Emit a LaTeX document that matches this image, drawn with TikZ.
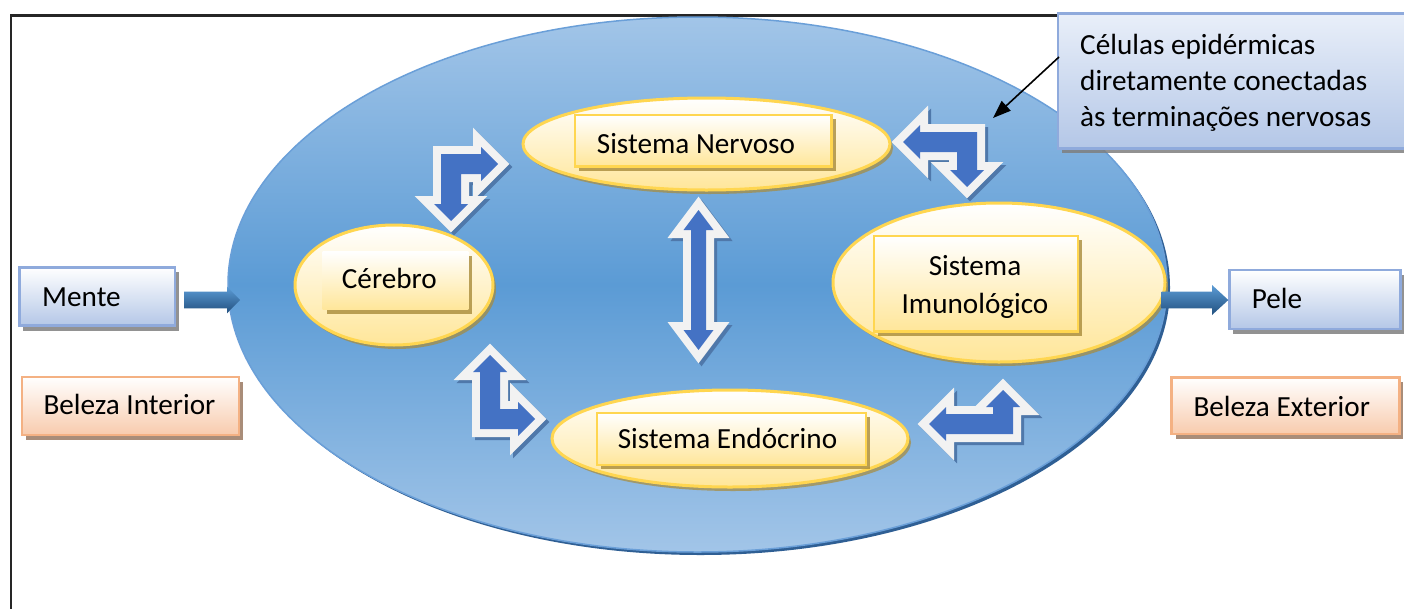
\documentclass[tikz,border=0pt]{standalone}
\usepackage{fontspec}
\setmainfont{Carlito}
\usetikzlibrary{shapes.geometric,shadows,arrows.meta}
\definecolor{ellTop}{HTML}{A2C5E8}
\definecolor{ellMid}{HTML}{5B9BD5}
\definecolor{ellLine}{HTML}{6A9FD8}
\definecolor{ellShadow}{HTML}{2F5F94}
\definecolor{yelLine}{HTML}{FFD650}
\definecolor{yelBot}{HTML}{FFE699}
\definecolor{yelShadow}{HTML}{A88B3A}
\definecolor{boxBlueLine}{HTML}{8FAADC}
\definecolor{boxBlueBot}{HTML}{B4C7E7}
\definecolor{boxOrLine}{HTML}{F4B183}
\definecolor{boxOrBot}{HTML}{F8CBAD}
\definecolor{shGray}{HTML}{7F7F7F}
\definecolor{shBrown}{HTML}{9A7A62}
\definecolor{arrBlue}{HTML}{4472C4}
\definecolor{arrWhite}{HTML}{F2F2F2}
\definecolor{arrShd}{HTML}{4F78AA}
\definecolor{blkTop}{HTML}{5B9BD5}
\definecolor{blkBot}{HTML}{22507F}
\definecolor{calTop}{HTML}{E9EFF9}
\definecolor{frameC}{HTML}{262626}

\newcommand{\bentpath}[2]{(0,0) -- ({#1-17},0) -- ({#1-17},-7) -- (#1,10) -- ({#1-17},27) -- ({#1-17},20) -- (20,20) -- (20,{#2-17}) -- (27,{#2-17}) -- (10,#2) -- (-7,{#2-17}) -- (0,{#2-17}) -- cycle}
\newcommand{\bentarrow}[6]{%
  \begin{scope}[shift={({#1+3},{#2+3})},xscale=#3,yscale=#4]
    \filldraw[bentshadow] \bentpath{#5}{#6};
  \end{scope}
  \begin{scope}[shift={(#1,#2)},xscale=#3,yscale=#4]
    \filldraw[bentwhite] \bentpath{#5}{#6};
    \fill[bentblue] \bentpath{#5}{#6};
  \end{scope}}
\newcommand{\dblpath}{(698.5,210) -- (713.5,230) -- (706,230) -- (706,330) -- (713.5,330) -- (698.5,350) -- (683.5,330) -- (691,330) -- (691,230) -- (683.5,230) -- cycle}

\begin{document}
\begin{tikzpicture}[x=1pt,y=-1pt,
  txt/.style={inner sep=0pt, font=\fontsize{29.2pt}{36pt}\selectfont},
  frame/.style={draw=frameC, line width=2.4pt},
  bigell/.style={ellipse, inner sep=0pt, minimum width=939pt, minimum height=535pt,
    draw=ellLine, line width=1.5pt, top color=ellTop, bottom color=ellTop, middle color=ellMid,
    drop shadow={shadow xshift=3pt, shadow yshift=-3pt, fill=ellShadow, opacity=1}},
  yell/.style={ellipse, inner sep=0pt, draw=yelLine, line width=3pt, top color=white, bottom color=yelBot,
    drop shadow={shadow xshift=3pt, shadow yshift=-4pt, fill=yelShadow, opacity=.7}},
  inrect/.style={rectangle, inner sep=0pt, draw=yelLine, line width=2.5pt, top color=white, bottom color=yelBot,
    drop shadow={shadow xshift=4pt, shadow yshift=-4pt, fill=yelShadow, opacity=.8}},
  bluebox/.style={rectangle, inner sep=0pt, draw=boxBlueLine, line width=2.5pt, top color=white, bottom color=boxBlueBot,
    drop shadow={shadow xshift=4pt, shadow yshift=-5pt, fill=shGray, opacity=.85}},
  orbox/.style={rectangle, inner sep=0pt, draw=boxOrLine, line width=2.5pt, top color=white, bottom color=boxOrBot,
    drop shadow={shadow xshift=4pt, shadow yshift=-5pt, fill=shBrown, opacity=.85}},
  calbox/.style={rectangle, inner sep=0pt, draw=boxBlueLine, line width=2.5pt, top color=calTop, bottom color=boxBlueBot,
    drop shadow={shadow xshift=4pt, shadow yshift=-5pt, fill=shGray, opacity=.85}},
  bentwhite/.style={fill=arrWhite, draw=arrWhite, line width=16pt, line join=miter},
  bentshadow/.style={fill=arrShd, draw=arrShd, line width=16pt, line join=miter},
  bentblue/.style={fill=arrBlue},
  blockarr/.style={top color=blkTop, bottom color=blkBot},
  calarrow/.style={draw=black, line width=1.6pt, -{Triangle[length=18pt,width=13pt]}}
]
\useasboundingbox (0,0) rectangle (1404,608);
\fill[white] (0,0) rectangle (1404,608);

% frame
\draw[frame] (11,610) -- (11,15.5) -- (1080,15.5);

% big body ellipse
\node[bigell] (body) at (697.5,284.5) {};

% yellow ellipses
\node[yell, minimum width=367pt, minimum height=92pt] (nerv) at (706.5,144) {};
\node[yell, minimum width=198pt, minimum height=120pt] (cer) at (394,285) {};
\node[yell, minimum width=332pt, minimum height=159pt] (imun) at (999,282.5) {};
\node[yell, minimum width=356pt, minimum height=97pt] (endo) at (730,438.5) {};

% inner text boxes
\node[inrect, minimum width=256.7pt, minimum height=51.7pt] (nervR) at (703.3,140.8) {};
\node[inrect, draw=none, minimum width=145.6pt, minimum height=58.3pt] (cerR) at (395.5,280.8) {};
\node[inrect, minimum width=204pt, minimum height=95.7pt] (imunR) at (976,283.8) {};
\node[inrect, minimum width=269pt, minimum height=52pt] (endoR) at (731.5,439) {};

\node[txt, anchor=base west] (tNerv) at (596.7,153.3) {Sistema Nervoso};
\node[txt, anchor=base west] (tCer) at (341.7,288.3) {Cérebro};
\node[txt, anchor=base] (tSisA) at (975,275) {Sistema};
\node[txt, anchor=base] (tSisB) at (975,313.3) {Imunológico};
\node[txt, anchor=base] (tEndo) at (727.5,448) {Sistema Endócrino};

% side boxes
\node[bluebox, minimum width=155.7pt, minimum height=58.4pt] (mente) at (97.2,296.5) {};
\node[orbox, minimum width=217.3pt, minimum height=58.3pt] (bi) at (130.4,405.9) {};
\node[bluebox, minimum width=171.4pt, minimum height=59pt] (pele) at (1315,299.5) {};
\node[orbox, minimum width=227.6pt, minimum height=56.7pt] (be) at (1285.5,405.7) {};
\node[txt, anchor=base west] (tMente) at (42,306.7) {Mente};
\node[txt, anchor=base west] (tBI) at (43.3,414) {Beleza Interior};
\node[txt, anchor=base west] (tPele) at (1251.7,308.3) {Pele};
\node[txt, anchor=base west] (tBE) at (1193.3,416.7) {Beleza Exterior};

% callout
\node[calbox, minimum width=352pt, minimum height=135pt] (callout) at (1234,80.8) {};
\node[txt, anchor=base west] (cl1) at (1080,54) {Células epidérmicas};
\node[txt, anchor=base west] (cl2) at (1080,90) {diretamente conectadas};
\node[txt, anchor=base west] (cl3) at (1080,126) {às terminações nervosas};
\coordinate (cstart) at (1059,57);
\coordinate (ctip) at (993,118);
\draw[calarrow] (cstart) -- (ctip);

% small block arrows
\path[blockarr] (184,291.7) -- (227,291.7) -- (227,286.7) -- (240,300) -- (227,313.3) -- (227,308.3) -- (184,308.3) -- cycle;
\path[blockarr] (1161.7,291.7) -- (1212,291.7) -- (1212,285) -- (1228.3,300) -- (1212,315) -- (1212,308.3) -- (1161.7,308.3) -- cycle;

% bent arrows
\bentarrow{441}{154}{1}{1}{57}{67}
\bentarrow{977}{132}{-1}{1}{74}{55}
\bentarrow{480}{429}{1}{-1}{55}{74}
\bentarrow{1013}{434}{-1}{-1}{84}{44}

% double arrow
\filldraw[bentshadow, shift={(3,3)}] \dblpath;
\filldraw[bentwhite] \dblpath;
\fill[bentblue] \dblpath;
\end{tikzpicture}
\end{document}
